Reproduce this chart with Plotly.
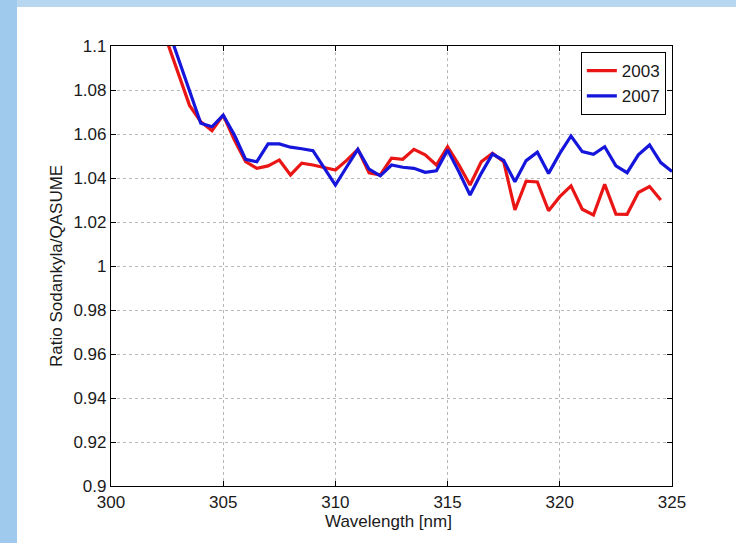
import plotly.graph_objects as go

wavelength = [302.5 + 0.5 * i for i in range(46)]

ratio_2003 = [1.102, 1.087, 1.073, 1.0656, 1.0615, 1.0686, 1.0573, 1.0474, 1.0444, 1.0455,
              1.0482, 1.0414, 1.0467, 1.0459, 1.0447, 1.0436, 1.048, 1.053, 1.0424, 1.0414,
              1.049, 1.0485, 1.053, 1.0505, 1.0459, 1.0542, 1.046, 1.0368, 1.0474, 1.0512,
              1.0474, 1.0255, 1.0386, 1.0382, 1.0251, 1.0315, 1.0364, 1.0258, 1.0232, 1.0371,
              1.0236, 1.0235, 1.0334, 1.0361, 1.030]

ratio_2007 = [1.109, 1.094, 1.079, 1.0649, 1.0633, 1.0686, 1.0595, 1.0485, 1.0474, 1.0555,
              1.0555, 1.054, 1.0533, 1.0524, 1.0446, 1.0368, 1.045, 1.053, 1.044, 1.041,
              1.0459, 1.0449, 1.0444, 1.0426, 1.0433, 1.0527, 1.0429, 1.0323, 1.0421, 1.0509,
              1.048, 1.0383, 1.0479, 1.0517, 1.0421, 1.0512, 1.0591, 1.052, 1.0508, 1.0542,
              1.0455, 1.0424, 1.0505, 1.055, 1.047, 1.0429]

x_ticks = [300, 305, 310, 315, 320, 325]
y_ticks = [0.9, 0.92, 0.94, 0.96, 0.98, 1.0, 1.02, 1.04, 1.06, 1.08, 1.1]
y_tick_labels = ["0.9", "0.92", "0.94", "0.96", "0.98", "1", "1.02", "1.04", "1.06", "1.08", "1.1"]

FONT = "Liberation Sans, Arial, sans-serif"

fig = go.Figure()
fig.add_trace(go.Scatter(x=wavelength[:len(ratio_2003)], y=ratio_2003, mode="lines", name="2003",
                         line=dict(color="#ea1515", width=3.2)))
fig.add_trace(go.Scatter(x=wavelength[:len(ratio_2007)], y=ratio_2007, mode="lines", name="2007",
                         line=dict(color="#1515dc", width=3.2)))

axis_common = dict(
    showline=True, linecolor="black", linewidth=1.2, mirror="ticks",
    ticks="inside", ticklen=5, tickcolor="black", tickwidth=1,
    showgrid=True, gridcolor="#b8b8b8", gridwidth=1, griddash="dot",
    zeroline=False, automargin=False,
    tickfont=dict(family=FONT, size=17, color="#1a1a1a"),
)

fig.update_xaxes(range=[300, 325], tickvals=x_ticks, **axis_common)
fig.update_yaxes(range=[0.9, 1.1], tickvals=y_ticks, ticktext=y_tick_labels, **axis_common)

fig.update_layout(
    width=736, height=543,
    margin=dict(l=111, r=64, t=46, b=57),
    paper_bgcolor="white", plot_bgcolor="white",
    font=dict(family=FONT, size=17, color="#1a1a1a"),
    showlegend=True,
    legend=dict(x=0.989, y=0.986, xanchor="right", yanchor="top",
                bgcolor="white", bordercolor="black", borderwidth=1,
                font=dict(family=FONT, size=17, color="#1a1a1a"),
                tracegroupgap=0, itemwidth=30),
    shapes=[
        dict(type="rect", xref="paper", yref="paper", x0=-0.2, x1=-0.16756, y0=-0.14, y1=1.11,
             fillcolor="#9fcaee", line=dict(width=0), layer="below"),
        dict(type="rect", xref="paper", yref="paper", x0=-0.16756, x1=1.12, y0=1.0886, y1=1.11,
             fillcolor="#b7d7f1", line=dict(width=0), layer="below"),
    ],
    annotations=[
        dict(text="Wavelength [nm]", xref="paper", yref="paper", x=0.4955, y=-0.0807,
             xanchor="center", yanchor="middle", showarrow=False,
             font=dict(family=FONT, size=17, color="#1a1a1a")),
        dict(text="Ratio Sodankyla/QASUME", xref="paper", yref="paper", x=-0.098, y=0.5,
             xanchor="center", yanchor="middle", textangle=-90, showarrow=False,
             font=dict(family=FONT, size=17, color="#1a1a1a")),
    ],
)

fig.write_html("out.html", config={"displayModeBar": False},
               post_script="document.body.style.margin='0';")
